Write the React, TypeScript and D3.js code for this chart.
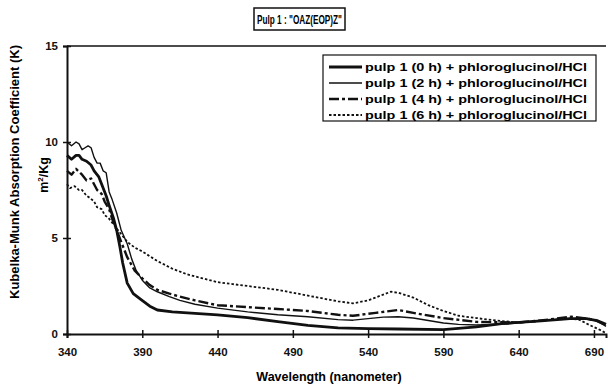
import React, { useEffect, useRef } from "react";
import * as d3 from "d3";

// wavelength (nm) and Kubelka-Munk K values per sample
const wl0h = [340, 343, 346, 348, 350, 353, 356, 358, 361, 364, 366, 368, 371, 373, 375, 377, 380, 384, 389, 395, 400, 410, 420, 440, 460, 480, 500, 520, 540, 560, 590, 612, 630, 655, 674, 685, 692, 698];
const k0h = [9.3, 9.1, 9.3, 9.3, 9.1, 9.0, 8.8, 8.5, 8.2, 7.6, 7.2, 6.7, 6.0, 5.4, 4.6, 3.7, 2.65, 2.1, 1.8, 1.45, 1.25, 1.15, 1.1, 1.0, 0.85, 0.65, 0.45, 0.32, 0.28, 0.26, 0.23, 0.37, 0.55, 0.68, 0.8, 0.8, 0.7, 0.5];

const wl2h = [340, 343, 346, 348, 350, 352, 354, 356, 358, 360, 362, 364, 366, 368, 370, 373, 376, 380, 383, 386, 390, 395, 400, 408, 415, 425, 440, 460, 480, 500, 520, 530, 540, 550, 560, 570, 580, 590, 600, 612, 632, 650, 665, 675, 685, 692, 698];
const k2h = [10.0, 9.8, 10.0, 9.9, 9.6, 9.7, 9.8, 9.7, 9.2, 8.9, 8.9, 8.5, 8.4, 7.4, 7.0, 6.3, 5.4, 4.7, 3.9, 3.3, 2.8, 2.4, 2.2, 1.95, 1.75, 1.55, 1.35, 1.15, 1.0, 0.9, 0.75, 0.72, 0.8, 0.88, 0.9, 0.83, 0.7, 0.57, 0.5, 0.47, 0.52, 0.65, 0.75, 0.8, 0.78, 0.7, 0.4];

const wl4h = [340, 343, 346, 350, 353, 356, 360, 363, 365, 368, 370, 373, 375, 378, 380, 385, 390, 395, 400, 408, 415, 425, 440, 460, 480, 500, 520, 530, 545, 560, 570, 590, 612, 640, 660, 675, 690, 698];
const k4h = [8.5, 8.3, 8.6, 8.3, 8.0, 8.1, 7.5, 7.3, 6.9, 6.5, 6.0, 5.4, 5.0, 4.4, 4.0, 3.3, 2.9, 2.55, 2.3, 2.1, 1.95, 1.75, 1.5, 1.4, 1.3, 1.2, 1.0, 0.95, 1.1, 1.25, 1.1, 0.83, 0.63, 0.6, 0.75, 0.9, 0.75, 0.45];

const wl6h = [340, 342, 345, 348, 350, 353, 355, 358, 360, 363, 365, 368, 370, 375, 380, 385, 390, 400, 410, 420, 430, 440, 450, 460, 470, 480, 490, 500, 510, 520, 530, 540, 550, 555, 560, 570, 580, 590, 600, 612, 625, 640, 650, 660, 674, 680, 687, 693, 698];
const k6h = [7.8, 7.6, 7.7, 7.5, 7.5, 7.2, 7.1, 6.9, 6.6, 6.5, 6.2, 6.0, 5.8, 5.3, 4.8, 4.5, 4.3, 3.8, 3.4, 3.1, 2.9, 2.7, 2.6, 2.5, 2.4, 2.3, 2.15, 2.0, 1.85, 1.7, 1.6, 1.75, 2.05, 2.2, 2.15, 1.9, 1.5, 1.2, 0.95, 0.83, 0.7, 0.6, 0.65, 0.73, 0.8, 0.75, 0.47, 0.25, 0.05];

const seriesNames = [
  "pulp 1 (0 h) + phloroglucinol/HCl",
  "pulp 1 (2 h) + phloroglucinol/HCl",
  "pulp 1 (4 h) + phloroglucinol/HCl",
  "pulp 1 (6 h) + phloroglucinol/HCl",
];
const xTicks = [340, 390, 440, 490, 540, 590, 640, 690];
const yTicks = [0, 5, 10, 15];

const width = 608;
const height = 385;
const font = "'Liberation Sans', Arial, sans-serif";

const styles = [
  { w: 2.8, dash: null },
  { w: 1.4, dash: null },
  { w: 2.4, dash: "10,3,3,3" },
  { w: 1.8, dash: "2.5,2" },
];

const App = () => {
  const svgRef = useRef(null);

  useEffect(() => {
    const svg = d3.select(svgRef.current);
    svg.selectAll("*").remove();

    const x = d3.scaleLinear().domain([340, 698]).range([67, 606]);
    const y = d3.scaleLinear().domain([0, 15]).range([334, 46]);

    const series = [
      { wl: wl0h, k: k0h },
      { wl: wl2h, k: k2h },
      { wl: wl4h, k: k4h },
      { wl: wl6h, k: k6h },
    ];

    // title box
    svg
      .append("rect")
      .attr("x", 254)
      .attr("y", 8)
      .attr("width", 91)
      .attr("height", 22)
      .attr("fill", "white")
      .attr("stroke", "#111")
      .attr("stroke-width", 1.5);
    svg
      .append("text")
      .attr("x", 257)
      .attr("y", 24)
      .attr("textLength", 85)
      .attr("lengthAdjust", "spacingAndGlyphs")
      .style("font-family", font)
      .style("font-weight", "bold")
      .style("font-size", "13px")
      .text('Pulp 1 : "OAZ(EOP)Z"');

    // top frame line
    svg
      .append("line")
      .attr("x1", x(340))
      .attr("x2", x(698))
      .attr("y1", y(15))
      .attr("y2", y(15))
      .attr("stroke", "#111")
      .attr("stroke-width", 1.5);

    series.forEach((s, i) => {
      const pts = s.wl.map((w, j) => [x(w), y(s.k[j])] as [number, number]);
      svg
        .append("path")
        .attr("d", d3.line()(pts))
        .attr("fill", "none")
        .attr("stroke", "#111")
        .attr("stroke-width", styles[i].w)
        .attr("stroke-linejoin", "round")
        .attr("stroke-dasharray", styles[i].dash);
    });

    // x axis
    const xAxis = svg
      .append("g")
      .attr("transform", `translate(0,${y(0)})`)
      .call(d3.axisBottom(x).tickValues(xTicks).tickSizeOuter(0).tickSize(4));
    xAxis.select(".domain").attr("stroke", "#111").attr("stroke-width", 2);
    xAxis.selectAll(".tick line").attr("y1", -4).attr("y2", 4).attr("stroke", "#111").attr("stroke-width", 1.5);
    xAxis
      .selectAll("text")
      .attr("y", 14)
      .attr("dy", "0.71em")
      .style("font-family", font)
      .style("font-weight", "bold")
      .style("font-size", "11.5px")
      .style("fill", "#111");

    // y axis
    const yAxis = svg
      .append("g")
      .attr("transform", `translate(${x(340)},0)`)
      .call(d3.axisLeft(y).tickValues(yTicks).tickSizeOuter(0).tickSize(4));
    yAxis.select(".domain").attr("stroke", "#111").attr("stroke-width", 2);
    yAxis.selectAll(".tick line").attr("x1", -4).attr("x2", 4).attr("stroke", "#111").attr("stroke-width", 1.5);
    yAxis
      .selectAll("text")
      .attr("x", -9)
      .style("font-family", font)
      .style("font-weight", "bold")
      .style("font-size", "11.5px")
      .style("fill", "#111");

    // axis titles
    svg
      .append("text")
      .attr("x", 329)
      .attr("y", 381)
      .attr("text-anchor", "middle")
      .style("font-family", font)
      .style("font-weight", "bold")
      .style("font-size", "12.5px")
      .text("Wavelength (nanometer)");
    svg
      .append("text")
      .attr("transform", "translate(19,172) rotate(-90)")
      .attr("text-anchor", "middle")
      .attr("textLength", 254)
      .attr("lengthAdjust", "spacingAndGlyphs")
      .style("font-family", font)
      .style("font-weight", "bold")
      .style("font-size", "12.5px")
      .text("Kubelka-Munk Absorption Coefficient (K)");
    const unit = svg
      .append("text")
      .attr("transform", "translate(48,175) rotate(-90)")
      .attr("text-anchor", "middle")
      .style("font-family", font)
      .style("font-weight", "bold")
      .style("font-size", "12.5px");
    unit.append("tspan").text("m");
    unit.append("tspan").attr("dy", -5).style("font-size", "8px").text("2");
    unit.append("tspan").attr("dy", 5).text("/Kg");

    // legend
    const lg = svg.append("g");
    lg.append("rect")
      .attr("x", 323)
      .attr("y", 55)
      .attr("width", 273)
      .attr("height", 66)
      .attr("fill", "white")
      .attr("stroke", "#111")
      .attr("stroke-width", 1.2);
    seriesNames.forEach((name, i) => {
      const yy = 67 + i * 16;
      lg.append("line")
        .attr("x1", 329)
        .attr("x2", 362)
        .attr("y1", yy)
        .attr("y2", yy)
        .attr("stroke", "#111")
        .attr("stroke-width", styles[i].w)
        .attr("stroke-dasharray", styles[i].dash);
      lg.append("text")
        .attr("x", 365)
        .attr("y", yy + 4)
        .attr("textLength", 222)
        .attr("lengthAdjust", "spacingAndGlyphs")
        .style("font-family", font)
        .style("font-weight", "bold")
        .style("font-size", "11.5px")
        .text(name);
    });
  }, []);

  return (
    <div style={{ position: "absolute", left: 0, top: 0 }}>
      <svg ref={svgRef} width={width} height={height} style={{ background: "white", display: "block" }}></svg>
    </div>
  );
};

export default App;
